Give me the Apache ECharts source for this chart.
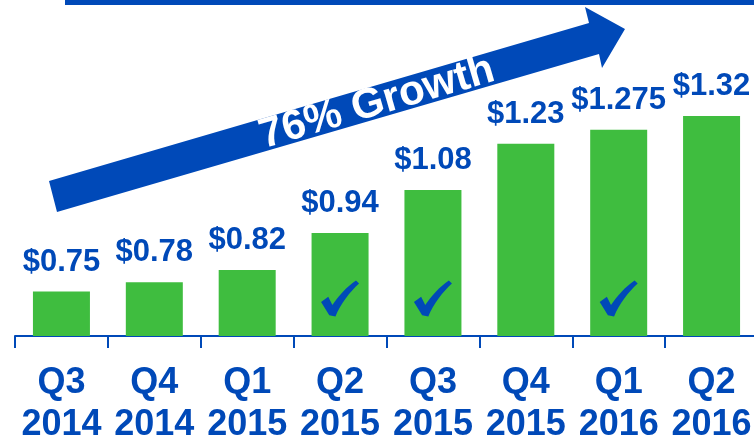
<!DOCTYPE html>
<html>
<head>
<meta charset="utf-8">
<script src="https://cdn.jsdelivr.net/npm/echarts@6/dist/echarts.min.js"></script>
<style>
html,body{margin:0;padding:0;background:#fff;}
#chart{width:754px;height:438px;}
</style>
</head>
<body>
<div id="chart"></div>
<script>
// ---- data ----
const quarters = ['Q3', 'Q4', 'Q1', 'Q2', 'Q3', 'Q4', 'Q1', 'Q2'];
const years = ['2014', '2014', '2015', '2015', '2015', '2015', '2016', '2016'];
const values = [0.75, 0.78, 0.82, 0.94, 1.08, 1.23, 1.275, 1.32];
const valueLabels = ['$0.75', '$0.78', '$0.82', '$0.94', '$1.08', '$1.23', '$1.275', '$1.32'];
const checked = [false, false, false, true, true, false, true, false];
const growthText = '76% Growth';

// ---- styling ----
const BLUE = '#0049B8';
const GREEN = '#3FBD3F';
const FONT = '"Liberation Sans", Arial, sans-serif';
const CHECK_Y = 0.728;
const CHECK_PATH = 'path://M0,21 L7,16 L11,24 C17,15 25,6 34,0 L37,3 C28,11 19,23 14,35 L8,34 Z';

const categories = quarters.map((q, i) => q + '\n' + years[i]);
const checkData = checked.map((c, i) => c ? [i, CHECK_Y] : null).filter(Boolean);

const chart = echarts.init(document.getElementById('chart'), null, {renderer: 'canvas'});
chart.setOption({
  animation: false,
  backgroundColor: '#ffffff',
  grid: {left: 15, top: 27.8, width: 743, height: 308.2, containLabel: false, outerBoundsMode: 'none'},
  xAxis: {
    type: 'category',
    data: categories,
    axisLine: {show: true, lineStyle: {color: BLUE, width: 2}},
    axisTick: {show: true, length: 12, lineStyle: {color: BLUE, width: 2}},
    axisLabel: {
      color: BLUE, fontFamily: FONT, fontWeight: 'bold', fontSize: 36,
      lineHeight: 42, margin: 26, interval: 0
    }
  },
  yAxis: {
    type: 'value', min: 0.606, max: 1.606, show: false,
    splitLine: {show: false}
  },
  series: [
    {
      type: 'bar',
      data: values,
      barWidth: 57,
      itemStyle: {color: GREEN},
      label: {
        show: true, position: 'top', distance: 14,
        formatter: p => valueLabels[p.dataIndex],
        color: BLUE, fontFamily: FONT, fontWeight: 'bold', fontSize: 31, lineHeight: 31
      },
      z: 2
    },
    {
      type: 'scatter',
      data: checkData,
      symbol: CHECK_PATH,
      symbolSize: [38, 36],
      itemStyle: {color: BLUE, opacity: 1},
      z: 3
    }
  ],
  graphic: [
    {
      type: 'rect',
      shape: {x: 65, y: 0, width: 700, height: 5},
      style: {fill: BLUE},
      z: 10
    },
    {
      type: 'polygon',
      shape: {points: [[49, 181], [589, 23], [585, 7], [625, 29], [602, 68], [599, 54], [57, 212]]},
      style: {fill: BLUE},
      z: 10
    },
    {
      type: 'text',
      x: 377, y: 103,
      rotation: 0.2845,
      style: {
        text: growthText, x: 0, y: 0, align: 'center', verticalAlign: 'middle',
        font: 'bold 42px ' + FONT, fill: '#ffffff'
      },
      z: 11
    }
  ]
});
</script>
</body>
</html>
